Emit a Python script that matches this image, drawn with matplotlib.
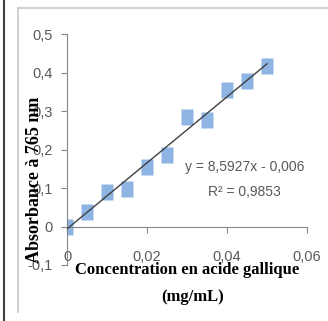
import matplotlib
matplotlib.use("Agg")
import matplotlib.pyplot as plt
import numpy as np
from matplotlib.ticker import FuncFormatter
from matplotlib.lines import Line2D

# Data
conc = [0.0, 0.005, 0.01, 0.015, 0.02, 0.025, 0.03, 0.035, 0.04, 0.045, 0.05]
absorb = [0.0, 0.037, 0.090, 0.098, 0.154, 0.187, 0.285, 0.278, 0.355, 0.378, 0.417]
slope = 8.5927
intercept = -0.006
eq_text = "y = 8,5927x - 0,006"
r2_text = "R² = 0,9853"
x_ticks = [0, 0.02, 0.04, 0.06]
y_ticks = [-0.1, 0, 0.1, 0.2, 0.3, 0.4, 0.5]
xlabel_l1 = "Concentration en acide gallique"
xlabel_l2 = "(mg/mL)"
ylabel = "Absorbance à 765 nm"

W, H = 328, 321
fig = plt.figure(figsize=(W / 100, H / 100), dpi=100)
ax = fig.add_axes([67 / W, (H - 265) / H, 240 / W, 230.5 / H])

marker_rect = [(-0.8, -1), (0.8, -1), (0.8, 1), (-0.8, 1), (-0.8, -1)]
ax.plot(conc, absorb, linestyle="none", marker=marker_rect, markersize=11.5,
        markerfacecolor="#8DB4E2", markeredgecolor="none", zorder=2)

xl = np.array([conc[0], conc[-1]])
ax.plot(xl, slope * xl + intercept, color="#404040", linewidth=1.0, zorder=3)

ax.set_xlim(0, 0.06)
ax.set_ylim(-0.1, 0.5)
ax.set_xticks(x_ticks)
ax.set_yticks(y_ticks)

def comma_fmt(v, pos):
    s = f"{v:.2f}".rstrip("0").rstrip(".")
    if abs(v) < 1e-12:
        s = "0"
    return s.replace(".", ",")

ax.xaxis.set_major_formatter(FuncFormatter(comma_fmt))
ax.yaxis.set_major_formatter(FuncFormatter(lambda v, p: comma_fmt(round(v, 1), p)))

for s in ["top", "right"]:
    ax.spines[s].set_visible(False)
ax.spines["bottom"].set_position(("data", 0))
ax.spines["left"].set_position(("data", 0))
for s in ["bottom", "left"]:
    ax.spines[s].set_color("#868686")
    ax.spines[s].set_linewidth(0.8)

tick_font = dict(family="Liberation Sans", size=10.5)
ax.tick_params(axis="x", direction="out", length=4.5, width=0.8, color="#868686",
               pad=12.5, labelcolor="#595959", labelsize=10.5)
ax.tick_params(axis="y", direction="out", length=4.5, width=0.8, color="#868686",
               pad=5.5, labelcolor="#595959", labelsize=10.5)
for lab in ax.get_xticklabels() + ax.get_yticklabels():
    lab.set_family("Liberation Sans")

# Trendline equation
fig.text(245 / W, 1 - 167 / H, eq_text, ha="center", va="center",
         fontsize=10, color="#595959", family="Liberation Sans")
fig.text(244 / W, 1 - 192 / H, r2_text, ha="center", va="center",
         fontsize=10, color="#595959", family="Liberation Sans")

# Axis titles
fig.text(187 / W, 1 - 270 / H, xlabel_l1, ha="center", va="center",
         fontsize=12, fontweight="bold", family="Liberation Serif", color="black")
fig.text(193 / W, 1 - 297 / H, xlabel_l2, ha="center", va="center",
         fontsize=12, fontweight="bold", family="Liberation Serif", color="black")
fig.text(35 / W, 1 - 180 / H, ylabel, ha="center", va="center", rotation=90,
         fontsize=13, fontweight="bold", family="Liberation Serif", color="black")

# Frame decorations
fig.add_artist(Line2D([4 / W, 4 / W], [0, 1], color="#404040", linewidth=1.5))
fig.add_artist(Line2D([18 / W, 18 / W], [1 - 312 / H, 1 - 8 / H], color="#C8C8C8", linewidth=1.2))
fig.add_artist(Line2D([18 / W, 1], [1 - 8 / H, 1 - 8 / H], color="#C8C8C8", linewidth=1.2))

fig.savefig("out.png", dpi=100)
